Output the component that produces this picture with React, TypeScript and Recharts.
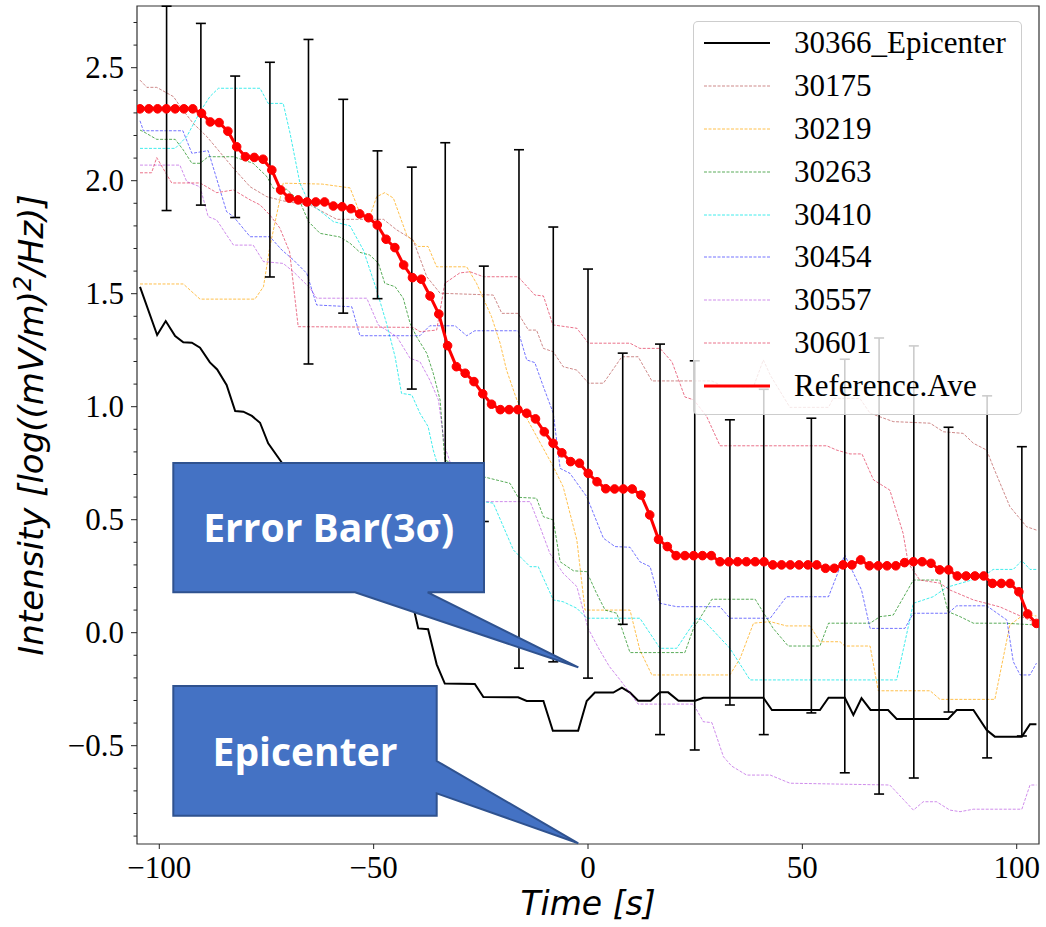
import React from 'react';
import { LineChart, Line, XAxis, YAxis, ErrorBar, Legend, ReferenceArea, Label } from 'recharts';

// ---------- data ----------
const refTimes = [-104.5, -102.45, -100.4, -98.35, -96.3, -94.25, -92.2, -90.15, -88.1, -86.05, -84, -81.95, -79.9, -77.85, -75.8, -73.75, -71.7, -69.65, -67.6, -65.55, -63.5, -61.45, -59.4, -57.35, -55.3, -53.25, -51.2, -49.15, -47.1, -45.05, -43, -40.95, -38.9, -36.85, -34.8, -32.75, -30.7, -28.65, -26.6, -24.55, -22.5, -20.45, -18.4, -16.35, -14.3, -12.25, -10.2, -8.15, -6.1, -4.05, -2, 0.05, 2.1, 4.15, 6.2, 8.25, 10.3, 12.35, 14.4, 16.45, 18.5, 20.55, 22.6, 24.65, 26.7, 28.75, 30.8, 32.85, 34.9, 36.95, 39, 41.05, 43.1, 45.15, 47.2, 49.25, 51.3, 53.35, 55.4, 57.45, 59.5, 61.55, 63.6, 65.65, 67.7, 69.75, 71.8, 73.85, 75.9, 77.95, 80, 82.05, 84.1, 86.15, 88.2, 90.25, 92.3, 94.35, 96.4, 98.45, 100.5, 102.55, 104.6];

const refValues = [
  2.318, 2.318, 2.318, 2.318, 2.318, 2.318, 2.318,
  2.298, 2.260, 2.257, 2.219, 2.150, 2.106, 2.103, 2.095, 2.047,
  1.959, 1.923, 1.915, 1.906, 1.906, 1.906, 1.888, 1.885, 1.876, 1.853,
  1.836, 1.804, 1.741, 1.704, 1.627, 1.571, 1.564, 1.490, 1.410, 1.270,
  1.177, 1.148, 1.111, 1.057, 1.011, 0.987, 0.987, 0.987, 0.971, 0.946,
  0.889, 0.838, 0.796, 0.757, 0.750, 0.705, 0.668, 0.637, 0.636, 0.636,
  0.636, 0.609, 0.521, 0.413, 0.381, 0.341, 0.341, 0.341, 0.341, 0.341,
  0.314, 0.314, 0.314, 0.314, 0.314, 0.314, 0.300, 0.300, 0.300, 0.300,
  0.300, 0.300, 0.285, 0.285, 0.300, 0.300, 0.322, 0.296, 0.296, 0.296,
  0.296, 0.310, 0.314, 0.314, 0.307, 0.278, 0.278, 0.251, 0.251, 0.251,
  0.251, 0.218, 0.218, 0.218, 0.181, 0.083, 0.041,
];

const epicenter: [number, number][] = [
  [-104.5, 1.53], [-100.5, 1.317], [-98.5, 1.379], [-96.3, 1.313], [-94.4, 1.285], [-92.4, 1.283], [-90.5, 1.261], [-88.2, 1.196], [-86.5, 1.165], [-84.3, 1.096], [-82.3, 0.981], [-80.4, 0.978], [-78.4, 0.959], [-76.5, 0.929], [-74.6, 0.838], [-71.4, 0.752], [-66, 0.64], [-58, 0.47], [-50, 0.31], [-44, 0.19], [-40.8, 0.115], [-40.4, 0.086], [-39.6, 0.019], [-37.3, 0.015], [-35.3, -0.14], [-33.4, -0.225], [-26.4, -0.227], [-24.4, -0.285], [-16.3, -0.286], [-14.3, -0.302], [-10.4, -0.302], [-8.2, -0.434], [-2.3, -0.434], [-0.3, -0.302], [1.6, -0.265], [5.9, -0.265], [7.9, -0.243], [9.8, -0.265], [11.7, -0.301], [14.6, -0.301], [16.8, -0.264], [18.7, -0.264], [21.1, -0.301], [25.0, -0.301], [26.9, -0.288], [40.9, -0.288], [42.9, -0.342], [54.1, -0.342], [56.1, -0.288], [59.9, -0.288], [61.9, -0.364], [63.8, -0.290], [65.9, -0.342], [70.0, -0.342], [72.0, -0.382], [84.0, -0.382], [86.0, -0.342], [89.9, -0.342], [93.0, -0.431], [94.9, -0.460], [101.2, -0.460], [103.1, -0.405], [104.6, -0.405],
];

const s30175: [number, number][] = [
  [-104.5, 2.445], [-102.9, 2.413], [-100.6, 2.413], [-96.7, 2.372], [-94.8, 2.320], [-92.1, 2.254], [-88.9, 2.195], [-82.7, 2.055], [-78.8, 1.973], [-74.9, 1.929], [-70.3, 1.907], [-64.8, 1.892], [-58.6, 1.829], [-47.7, 1.829], [-44.6, 1.782], [-40.8, 1.738], [-37.6, 1.575], [-34.5, 1.502], [-22.1, 1.494], [-20.1, 1.413], [-16.3, 1.413], [-13.9, 1.339], [-12.0, 1.339], [-10.4, 1.258], [-8.1, 1.243], [-5.8, 1.177], [-2.6, 1.162], [0.1, 1.104], [3.6, 1.104], [7.9, 1.221], [11.7, 1.221], [14.9, 1.114], [28.9, 1.114], [31.6, 1.088], [38.6, 1.088], [40.9, 1.207], [42.5, 1.140], [47.1, 0.997], [56.1, 0.997], [57.2, 1.037], [63.4, 1.037], [65.8, 0.971], [71.2, 0.934], [79.8, 0.927], [82.9, 0.889], [87.5, 0.882], [89.9, 0.838], [93.0, 0.808], [94.5, 0.735], [98.4, 0.558], [102.3, 0.469], [104.6, 0.454],
];

const s30219: [number, number][] = [
  [-104.5, 1.543], [-94.4, 1.543], [-90.5, 1.476], [-77.7, 1.476], [-75.7, 1.531], [-74.2, 1.708], [-71.9, 1.915], [-71.1, 1.989], [-62.0, 1.985], [-55.5, 1.968], [-53.2, 1.856], [-50.9, 1.841], [-49.3, 1.929], [-47.4, 1.947], [-45.4, 1.923], [-42.3, 1.760], [-39.6, 1.709], [-37.3, 1.709], [-35.3, 1.619], [-28.3, 1.619], [-26.0, 1.546], [-22.5, 1.398], [-20.5, 1.281], [-19.0, 1.162], [-16.6, 1.030], [-12.8, 0.897], [-8.1, 0.735], [-5.8, 0.646], [-2.6, 0.410], [-0.7, 0.100], [9.8, 0.100], [12.1, -0.077], [14.9, -0.187], [33.1, -0.187], [35.5, -0.113], [38.6, 0.042], [42.5, 0.049], [46.3, 0.030], [51.8, 0.030], [54.1, -0.040], [58.8, -0.040], [59.9, -0.059], [65.8, -0.059], [67.7, -0.257], [79.8, -0.257], [82.1, -0.295], [94.9, -0.295], [98.4, 0.034], [101.5, 0.078], [104.6, 0.074],
];

const s30263: [number, number][] = [
  [-104.5, 2.224], [-103.7, 2.217], [-100.6, 2.183], [-96.3, 2.183], [-94.4, 2.136], [-92.4, 2.077], [-90.5, 2.077], [-88.6, 2.106], [-82.7, 2.106], [-78.1, 2.077], [-74.9, 2.018], [-73.4, 1.966], [-70.3, 1.962], [-67.2, 1.907], [-65.2, 1.819], [-62.5, 1.767], [-57.9, 1.751], [-55.5, 1.723], [-53.2, 1.683], [-50.9, 1.671], [-48.9, 1.635], [-47.4, 1.546], [-45.0, 1.531], [-43.1, 1.480], [-41.5, 1.369], [-40.0, 1.310], [-37.6, 1.236], [-36.1, 1.148], [-34.5, 1.030], [-33.4, 0.764], [-24.4, 0.690], [-18.2, 0.661], [-16.3, 0.599], [-12.0, 0.595], [-10.4, 0.513], [-8.1, 0.499], [-6.5, 0.314], [-3.4, 0.274], [-0.3, 0.270], [2.0, 0.174], [4.0, 0.100], [6.7, 0.086], [9.8, -0.088], [22.6, -0.088], [24.6, 0.019], [28.9, 0.148], [39.0, 0.148], [43.2, 0.019], [46.7, -0.059], [54.1, -0.059], [56.1, 0.042], [65.8, 0.042], [68.1, 0.071], [71.2, 0.078], [75.9, 0.233], [82.1, 0.233], [84.0, 0.093], [86.8, 0.071], [89.9, 0.042], [97.3, 0.042], [104.6, 0.034],
];

const s30410: [number, number][] = [
  [-104.5, 2.143], [-96.3, 2.143], [-93.6, 2.195], [-90.5, 2.305], [-88.2, 2.372], [-86.2, 2.409], [-76.5, 2.409], [-74.6, 2.342], [-71.1, 2.342], [-69.5, 2.210], [-67.2, 1.989], [-65.2, 1.907], [-59.4, 1.819], [-55.5, 1.800], [-52.4, 1.693], [-49.3, 1.516], [-47.0, 1.369], [-45.0, 1.221], [-43.5, 1.059], [-41.1, 1.052], [-39.2, 0.971], [-37.3, 0.912], [-36.1, 0.808], [-35.3, 0.757], [-29.9, 0.675], [-24.4, 0.580], [-22.1, 0.573], [-17.4, 0.366], [-13.5, 0.292], [-11.6, 0.292], [-8.1, 0.145], [-5.8, 0.137], [-2.6, 0.108], [-0.3, 0.064], [12.1, 0.064], [16.8, -0.069], [20.7, -0.069], [25.4, 0.064], [26.9, 0.056], [33.1, -0.069], [37.8, -0.209], [72.0, -0.209], [75.9, 0.130], [80.5, 0.159], [83.7, 0.201], [92.2, 0.248], [94.5, 0.280], [99.2, 0.280], [101.2, 0.319], [103.1, 0.280], [104.6, 0.280],
];

const s30454: [number, number][] = [
  [-104.5, 2.265], [-103.7, 2.221], [-94.5, 2.221], [-92.4, 2.121], [-88.6, 2.133], [-84.3, 1.863], [-82.7, 1.841], [-78.8, 1.752], [-74.2, 1.752], [-71.4, 1.693], [-68.7, 1.649], [-65.6, 1.590], [-63.3, 1.450], [-55.1, 1.442], [-53.2, 1.314], [-39.2, 1.314], [-36.9, 1.358], [-31.0, 1.358], [-28.3, 1.314], [-26.4, 1.336], [-16.3, 1.336], [-14.3, 1.207], [-12.4, 1.195], [-10.4, 1.088], [-8.1, 0.971], [-6.5, 0.727], [-4.2, 0.705], [-0.3, 0.602], [3.6, 0.418], [6.3, 0.381], [9.8, 0.378], [12.1, 0.314], [14.5, 0.292], [16.8, 0.130], [20.7, 0.115], [30.8, 0.115], [33.1, 0.064], [42.5, 0.064], [46.3, 0.159], [56.1, 0.159], [59.9, 0.344], [63.8, 0.189], [65.8, 0.019], [73.9, 0.019], [75.9, 0.086], [84.0, 0.086], [86.0, 0.119], [93.0, 0.119], [97.7, 0.056], [99.2, -0.128], [100.8, -0.187], [103.1, -0.187], [104.6, -0.135],
];

const s30557: [number, number][] = [
  [-104.5, 2.069], [-95.2, 2.069], [-93.6, 1.996], [-90.5, 1.973], [-88.6, 1.841], [-86.6, 1.826], [-84.3, 1.760], [-82.7, 1.715], [-78.1, 1.715], [-75.7, 1.642], [-71.1, 1.634], [-68.7, 1.597], [-64.8, 1.524], [-63.3, 1.480], [-51.6, 1.480], [-48.9, 1.361], [-44.6, 1.310], [-41.5, 1.214], [-39.2, 1.199], [-36.9, 1.118], [-34.9, 1.030], [-33.4, 0.823], [-31.8, 0.735], [-30.6, 0.580], [-13.5, 0.580], [-11.2, 0.469], [-8.9, 0.351], [-5.8, 0.263], [-2.6, 0.204], [0.0, 0.020], [2.5, -0.070], [5.0, -0.150], [7.5, -0.209], [11.7, -0.316], [24.6, -0.316], [26.9, -0.394], [28.9, -0.398], [31.6, -0.549], [33.5, -0.590], [37.0, -0.630], [42.5, -0.630], [47.1, -0.666], [70.4, -0.674], [75.9, -0.785], [78.2, -0.748], [81.3, -0.748], [84.4, -0.785], [86.8, -0.792], [89.9, -0.781], [101.2, -0.781], [103.1, -0.674], [104.6, -0.674],
];

const s30601: [number, number][] = [
  [-104.5, 2.035], [-101.8, 2.035], [-100.6, 2.102], [-97.1, 1.990], [-90.5, 1.990], [-86.6, 1.947], [-82.7, 1.959], [-78.8, 1.915], [-76.5, 1.893], [-74.2, 1.848], [-71.9, 1.791], [-69.6, 1.685], [-67.6, 1.354], [-40.8, 1.351], [-39.2, 1.332], [-35.3, 1.339], [-33.4, 1.546], [-29.9, 1.592], [-27.5, 1.597], [-24.4, 1.575], [-16.3, 1.575], [-12.4, 1.494], [-10.4, 1.490], [-8.2, 1.362], [-2.6, 1.347], [0.1, 1.281], [9.8, 1.281], [12.1, 1.258], [16.8, 1.258], [19.6, 1.198], [22.6, 1.043], [24.7, 1.030], [27.7, 0.956], [30.8, 0.827], [55.7, 0.827], [58.0, 0.808], [61.1, 0.791], [63.9, 0.791], [66.6, 0.676], [70.4, 0.631], [73.5, 0.440], [74.7, 0.307], [77.4, 0.233], [82.1, 0.219], [84.4, 0.189], [89.9, 0.145], [96.1, 0.114], [104.6, 0.042],
];

// error bars (3 sigma) around the reference average
const errTimes = [-98.3, -90.3, -82.3, -74.2, -65.2, -57.1, -49.1, -41.1, -33.3, -24.3, -16.1, -8.1, 0, 8.1, 16.8, 24.9, 33.1, 41.0, 52.1, 59.9, 67.9, 76.0, 84.1, 93.1, 101.2];
const errMeans = [2.32, 2.294, 2.15, 2.049, 1.907, 1.887, 1.805, 1.569, 1.27, 1.057, 0.99, 0.833, 0.704, 0.637, 0.413, 0.342, 0.311, 0.313, 0.297, 0.295, 0.295, 0.313, 0.279, 0.247, 0.183];
const errSizes = [0.452, 0.402, 0.313, 0.475, 0.718, 0.473, 0.327, 0.491, 0.898, 0.565, 1.147, 0.962, 0.905, 0.6, 0.864, 0.861, 0.631, 0.764, 0.652, 0.915, 1.009, 0.956, 0.63, 0.801, 0.64];

const xTicks = [-100, -50, 0, 50, 100];
const yTicks = [-0.9, -0.8, -0.7, -0.6, -0.5, -0.4, -0.3, -0.2, -0.1, 0, 0.1, 0.2, 0.3, 0.4, 0.5, 0.6, 0.7, 0.8, 0.9, 1.0, 1.1, 1.2, 1.3, 1.4, 1.5, 1.6, 1.7, 1.8, 1.9, 2.0, 2.1, 2.2, 2.3, 2.4, 2.5, 2.6, 2.7];

// ---------- derived tables ----------
const toRows = (pairs: [number, number][]) => pairs.map(([t, v]) => ({ t, v }));
const refRows = refTimes.map((t, i) => ({ t, v: refValues[i] }));
const errRows = errTimes.map((t, i) => ({ t, v: errMeans[i], e: errSizes[i] }));

const dashed = [
  { name: '30175', color: '#A52A2A', opacity: 0.55, data: s30175 },
  { name: '30219', color: '#FFA500', opacity: 0.7, data: s30219 },
  { name: '30263', color: '#008000', opacity: 0.65, data: s30263 },
  { name: '30410', color: '#00E5E5', opacity: 0.75, data: s30410 },
  { name: '30454', color: '#0000FF', opacity: 0.55, data: s30454 },
  { name: '30557', color: '#9400D3', opacity: 0.45, data: s30557 },
  { name: '30601', color: '#DC143C', opacity: 0.6, data: s30601 },
];

const SERIF = "'Liberation Serif', 'Times New Roman', serif";
const SANS = "'DejaVu Sans', sans-serif";
const fmt = (v: number) => v.toFixed(1).replace('-', '\u2212');
const fmtX = (v: number) => String(v).replace('-', '\u2212');

const YTick = (props: any) => {
  const { x, y, payload } = props;
  const v = payload.value as number;
  const major = Math.abs(v * 2 - Math.round(v * 2)) < 1e-6;
  return (
    <g>
      <line x1={x} x2={x - (major ? 6 : 3.5)} y1={y} y2={y} stroke="#222" strokeWidth={1} />
      {major && (
        <text x={x - 13} y={y} dy="0.34em" textAnchor="end" fontFamily={SERIF} fontSize={31} fill="#000">
          {fmt(v)}
        </text>
      )}
    </g>
  );
};

const XLabel = (props: any) => {
  const vb = props.viewBox || { x: 137, y: 844, width: 902, height: 83 };
  return (
    <text x={vb.x + vb.width / 2} y={vb.y + 71} textAnchor="middle" fontFamily={SANS} fontStyle="italic" fontSize={33} fill="#000">
      Time [s]
    </text>
  );
};

const YLabel = (props: any) => {
  const vb = props.viewBox || { x: 0, y: 6, width: 137, height: 838 };
  const cx = vb.x + 43;
  const cy = vb.y + vb.height / 2;
  return (
    <text x={cx} y={cy} transform={`rotate(-90 ${cx} ${cy})`} textAnchor="middle" fontFamily={SANS} fontStyle="italic" fontSize={34} fill="#000">
      <tspan>Intensity [log((mV/m)</tspan>
      <tspan dy={-12} fontSize={24}>2</tspan>
      <tspan dy={12}>/Hz)]</tspan>
    </text>
  );
};

const legendRows = [
  { name: '30366_Epicenter', color: '#000', width: 2, dash: undefined as string | undefined, opacity: 1 },
  ...dashed.map((d) => ({ name: d.name, color: d.color, width: 1, dash: '3 1.5', opacity: d.opacity })),
  { name: 'Reference.Ave', color: '#FF0000', width: 3, dash: undefined as string | undefined, opacity: 1 },
];

const LegendBox = () => (
  <div
    style={{
      position: 'relative',
      width: 329,
      height: 394,
      boxSizing: 'border-box',
      background: 'rgba(255,255,255,0.8)',
      border: '1px solid rgba(200,200,200,0.9)',
      borderRadius: 5,
      fontFamily: SERIF,
      fontSize: 31,
      color: '#000',
    }}
  >
    {legendRows.map((r, i) => (
      <div
        key={r.name}
        style={{ position: 'absolute', left: 0, top: 0.3 + 42.8 * i, height: 42, width: '100%', display: 'flex', alignItems: 'center' }}
      >
        <svg width={66} height={10} style={{ marginLeft: 10, flex: '0 0 auto' }}>
          <line x1={0} x2={66} y1={5} y2={5} stroke={r.color} strokeWidth={r.width} strokeDasharray={r.dash} strokeOpacity={r.opacity} />
        </svg>
        <span style={{ marginLeft: 24, lineHeight: '42px', whiteSpace: 'nowrap' }}>{r.name}</span>
      </div>
    ))}
  </div>
);

export default function App() {
  return (
    <div style={{ position: 'absolute', left: 0, top: 0, width: 1046, height: 927, overflow: 'hidden', background: '#fff' }}>
      <LineChart width={1046} height={927} margin={{ top: 6, right: 7, bottom: 0, left: 0 }}>
        <XAxis
          dataKey="t"
          type="number"
          domain={[-105.2, 105.2]}
          allowDataOverflow
          ticks={xTicks}
          interval={0}
          tickFormatter={fmtX}
          tick={{ fontFamily: SERIF, fontSize: 31, fill: '#000' }}
          tickLine={{ stroke: '#222' }}
          tickSize={5}
          tickMargin={7}
          axisLine={false}
          height={83}
        >
          <Label content={XLabel} />
        </XAxis>
        <YAxis
          type="number"
          domain={[-0.935, 2.773]}
          allowDataOverflow
          ticks={yTicks}
          interval={0}
          tick={(p: any) => <YTick {...p} />}
          tickLine={false}
          tickSize={0}
          tickMargin={0}
          axisLine={false}
          width={137}
        >
          <Label content={YLabel} />
        </YAxis>
        <ReferenceArea x1={-105.2} x2={105.2} y1={-0.935} y2={2.773} fill="none" stroke="#333" strokeWidth={1.2} ifOverflow="visible" />
        <Line
          data={toRows(epicenter)}
          dataKey="v"
          name="30366_Epicenter"
          stroke="#000"
          strokeWidth={2}
          dot={false}
          activeDot={false}
          isAnimationActive={false}
        />
        {dashed.map((d) => (
          <Line
            key={d.name}
            data={toRows(d.data)}
            dataKey="v"
            name={d.name}
            stroke={d.color}
            strokeOpacity={d.opacity}
            strokeWidth={1}
            strokeDasharray="3 1.5"
            dot={false}
            activeDot={false}
            isAnimationActive={false}
          />
        ))}
        <Line
          data={errRows}
          dataKey="v"
          name="err"
          stroke="none"
          dot={false}
          activeDot={false}
          legendType="none"
          isAnimationActive={false}
        >
          <ErrorBar dataKey="e" direction="y" width={5} stroke="#000" strokeWidth={1.6} isAnimationActive={false} />
        </Line>
        <Line
          data={refRows}
          dataKey="v"
          name="Reference.Ave"
          stroke="#FF0000"
          strokeWidth={3}
          dot={{ r: 4.3, fill: '#FF0000', stroke: '#FF0000', strokeWidth: 1 }}
          activeDot={false}
          isAnimationActive={false}
        />
        <Legend
          layout="vertical"
          align="center"
          verticalAlign="middle"
          wrapperStyle={{ position: 'absolute', left: 693, top: 21, width: 329, height: 394 }}
          content={() => <LegendBox />}
        />
      </LineChart>
      <svg width={1046} height={927} style={{ position: 'absolute', left: 0, top: 0, pointerEvents: 'none' }}>
        <path d="M173.3 463 H484 V592.3 H427.7 L578.3 667.3 L355 592.3 H173.3 Z" fill="#4472C4" stroke="#2F528F" strokeWidth={2} />
        <text x={328.7} y={542} textAnchor="middle" fill="#fff" fontFamily="'Open Sans', sans-serif" fontWeight={700} fontSize={39}>
          Error Bar(3σ)
        </text>
        <path d="M173.3 686 H436.7 V761 L578.3 843.3 L436.7 793.3 V815.7 H173.3 Z" fill="#4472C4" stroke="#2F528F" strokeWidth={2} />
        <text x={305} y={765.5} textAnchor="middle" fill="#fff" fontFamily="'Open Sans', sans-serif" fontWeight={700} fontSize={39}>
          Epicenter
        </text>
      </svg>
    </div>
  );
}
